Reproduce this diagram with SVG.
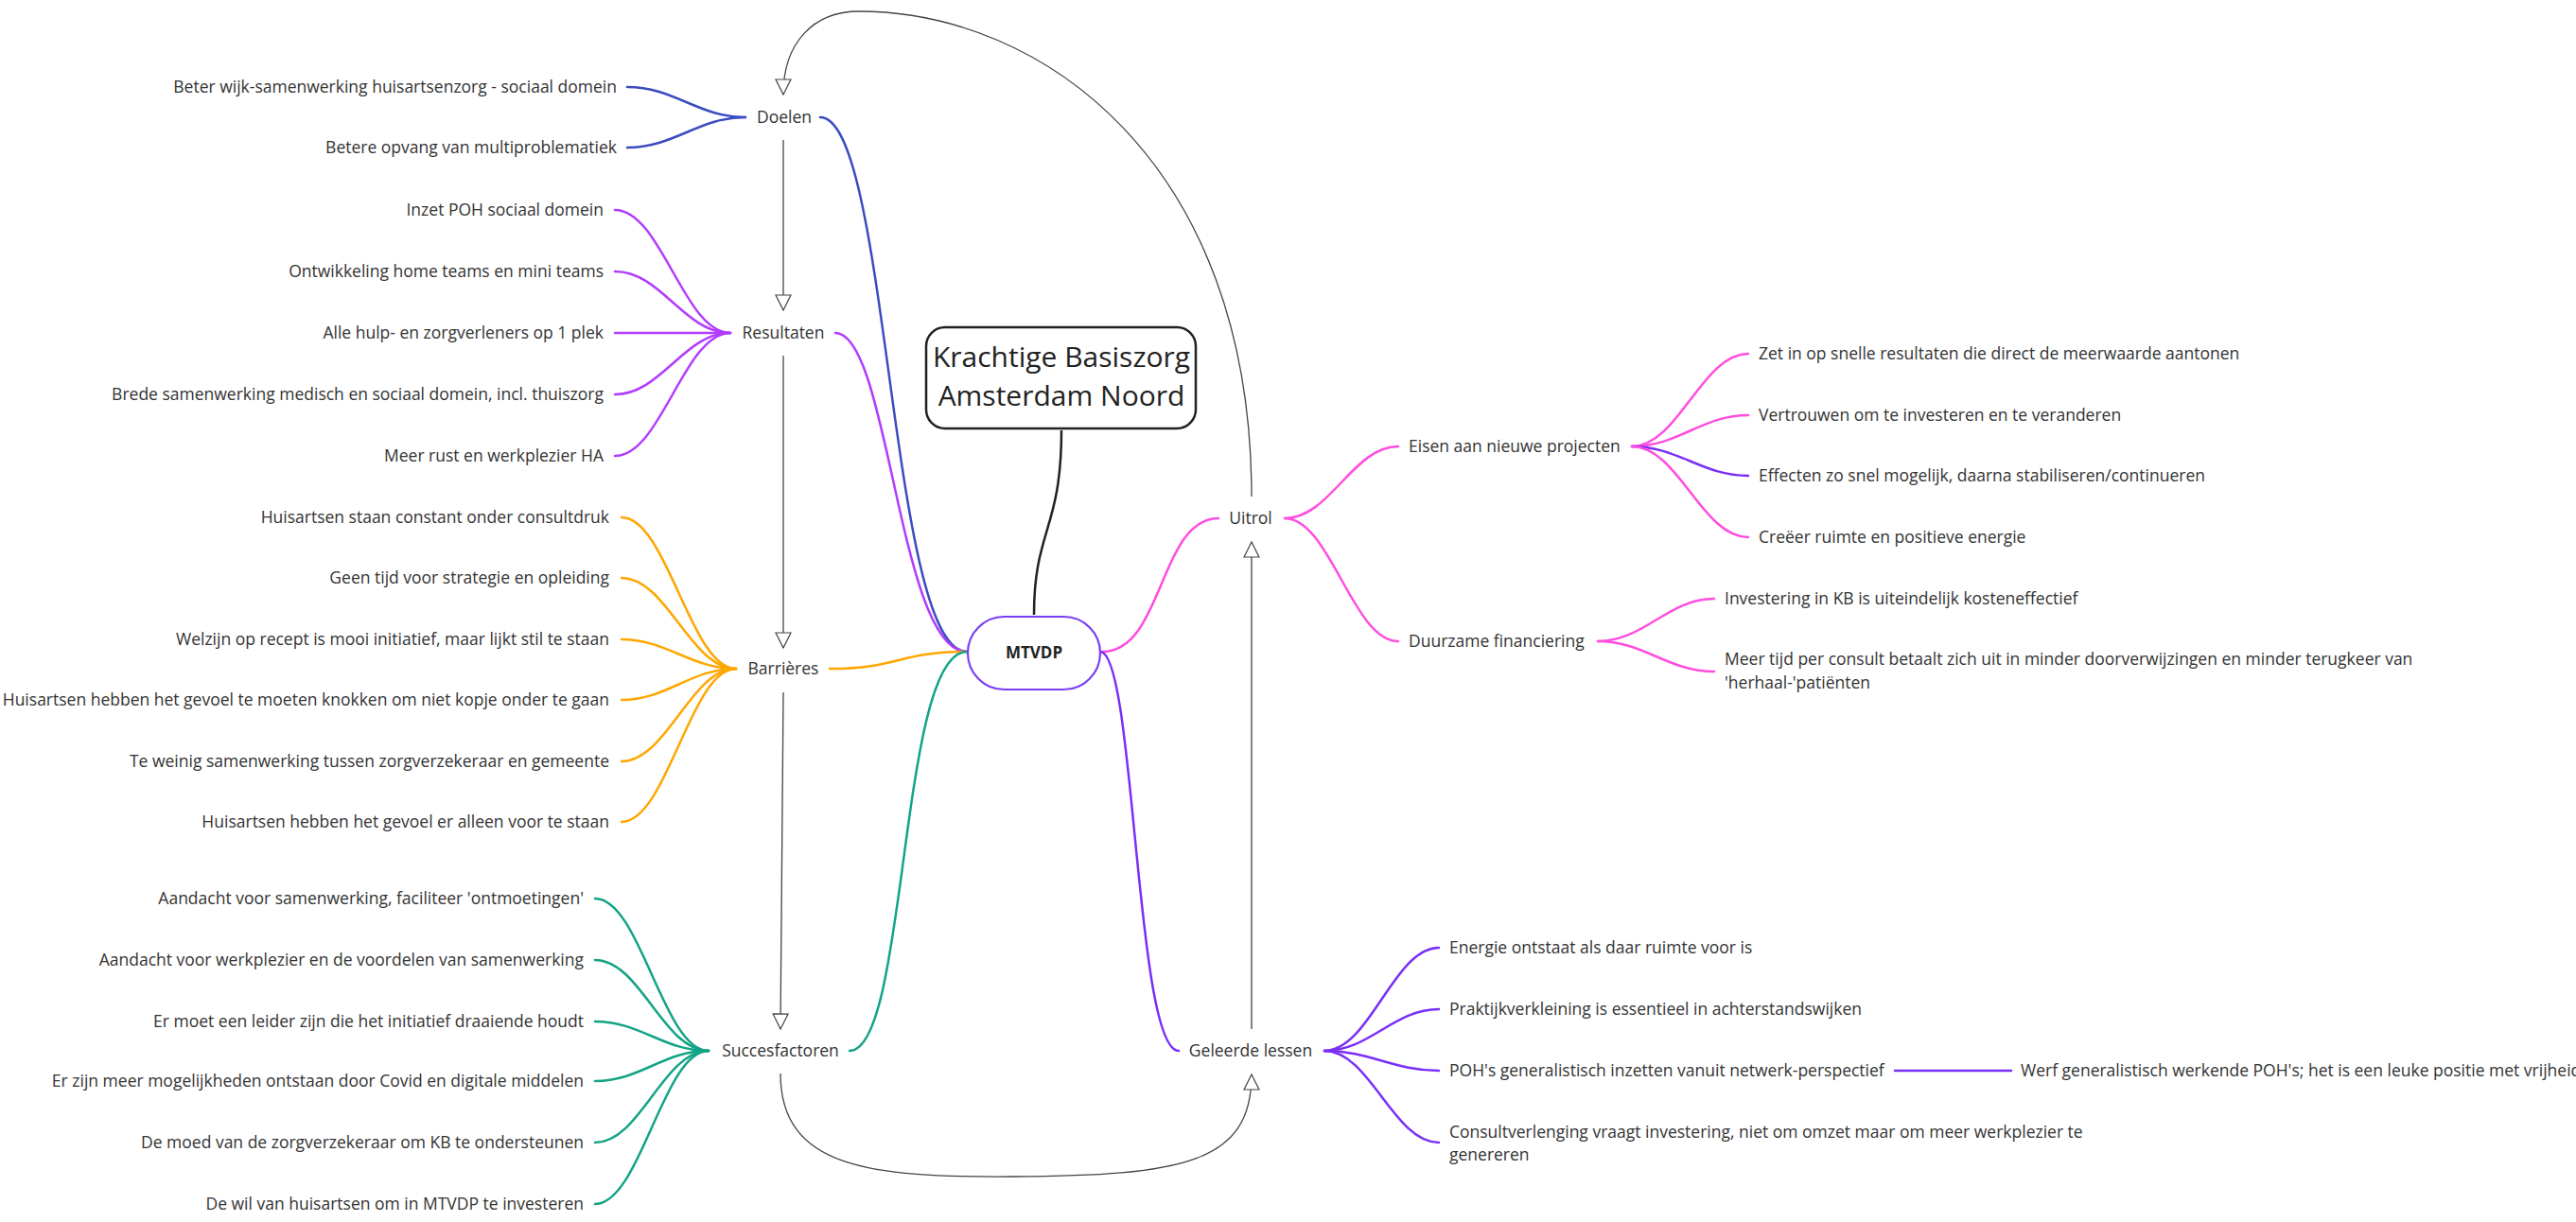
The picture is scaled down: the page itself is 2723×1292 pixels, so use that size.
<svg xmlns="http://www.w3.org/2000/svg" width="2723" height="1292" viewBox="0 0 2723 1292">
<defs>
<style>
text{font-family:"Open Sans","Noto Sans","Liberation Sans",sans-serif;font-size:17.5px;fill:#333}
.l{text-anchor:end}
.c{text-anchor:middle}
.title{font-size:30px;fill:#222}
.root{font-weight:bold;font-size:17px;fill:#222}
.cn{fill:none;stroke-width:2.5;stroke-linecap:round}
.flow{fill:none;stroke:#444;stroke-width:1.3}
.blue{stroke:#3b4cc0}
.purp{stroke:#b23cfd}
.orng{stroke:#ffa600}
.teal{stroke:#13a386}
.pink{stroke:#ff4ddf}
.viol{stroke:#7a2ff7}
</style>
<marker id="tri" markerUnits="userSpaceOnUse" markerWidth="18" markerHeight="18" viewBox="-1 -1 18 18" refX="16" refY="8" orient="auto">
<path d="M0,0 L16,8 L0,16 Z" fill="#fff" stroke="#444" stroke-width="1.2"/>
</marker>
</defs>
<rect width="2723" height="1292" fill="#fff"/>

<g id="connectors">
<path class="flow" d="M828 148 L828 328" marker-end="url(#tri)"/>
<path class="flow" d="M828 376 L828 685" marker-end="url(#tri)"/>
<path class="flow" d="M828 732 L825 1088" marker-end="url(#tri)"/>
<path class="flow" d="M825 1135 C825 1235 920 1245 1070 1244 C1250 1243 1323 1230 1323 1136" marker-end="url(#tri)"/>
<path class="flow" d="M1323 1088 L1323 573" marker-end="url(#tri)"/>
<path class="flow" d="M1323 525 C1323 170 1100 12 908 12 C860 12 828 45 828 100" marker-end="url(#tri)"/>
<path fill="none" stroke="#222" stroke-width="2.5" d="M1122 455 C1122 560 1093 560 1093 650"/>
<path class="cn blue" stroke-width="2" d="M867 124 C940 124 940 689 1022 689"/>
<path class="cn purp" stroke-width="2" d="M883 352 C940 352 950 689 1022 689"/>
<path class="cn orng" d="M877 707 C950 707 950 689 1022 689"/>
<path class="cn teal" d="M898 1111 C960 1111 950 689 1022 689"/>
<path class="cn pink" d="M1165 689 C1230 689 1225 548 1288 548"/>
<path class="cn viol" d="M1163 689 C1200 689 1200 1111 1246 1111"/>
<path class="cn blue" d="M663 92 C713 92 738 124 788 124"/>
<path class="cn blue" d="M663 156 C713 156 738 124 788 124"/>
<path class="cn purp" d="M650 222 C699 222 723 352 772 352"/>
<path class="cn purp" d="M650 287 C699 287 723 352 772 352"/>
<path class="cn purp" d="M650 352 L772 352"/>
<path class="cn purp" d="M650 417 C699 417 723 352 772 352"/>
<path class="cn purp" d="M650 482 C699 482 723 352 772 352"/>
<path class="cn orng" d="M657 547 C705 547 730 707 778 707"/>
<path class="cn orng" d="M657 611 C705 611 730 707 778 707"/>
<path class="cn orng" d="M657 676 C705 676 730 707 778 707"/>
<path class="cn orng" d="M657 740 C705 740 730 707 778 707"/>
<path class="cn orng" d="M657 805 C705 805 730 707 778 707"/>
<path class="cn orng" d="M657 869 C705 869 730 707 778 707"/>
<path class="cn teal" d="M629 950 C677 950 701 1111 749 1111"/>
<path class="cn teal" d="M629 1015 C677 1015 701 1111 749 1111"/>
<path class="cn teal" d="M629 1080 C677 1080 701 1111 749 1111"/>
<path class="cn teal" d="M629 1143 C677 1143 701 1111 749 1111"/>
<path class="cn teal" d="M629 1208 C677 1208 701 1111 749 1111"/>
<path class="cn teal" d="M629 1273 C677 1273 701 1111 749 1111"/>
<path class="cn pink" d="M1358 548 C1406 548 1430 472 1478 472"/>
<path class="cn pink" d="M1358 548 C1406 548 1430 678 1478 678"/>
<path class="cn pink" d="M1725 472 C1774 472 1799 374 1848 374"/>
<path class="cn pink" d="M1725 472 C1774 472 1799 439 1848 439"/>
<path class="cn viol" d="M1725 472 C1774 472 1799 503 1848 503"/>
<path class="cn pink" d="M1725 472 C1774 472 1799 568 1848 568"/>
<path class="cn pink" d="M1689 678 C1738 678 1763 633 1812 633"/>
<path class="cn pink" d="M1689 678 C1738 678 1763 710 1812 710"/>
<path class="cn viol" d="M1400 1111 C1448 1111 1473 1002 1521 1002"/>
<path class="cn viol" d="M1400 1111 C1448 1111 1473 1067 1521 1067"/>
<path class="cn viol" d="M1400 1111 C1448 1111 1473 1132 1521 1132"/>
<path class="cn viol" d="M1400 1111 C1448 1111 1473 1208 1521 1208"/>
<path class="cn viol" d="M2003 1132 L2126 1132"/>
</g>

<g id="title">
<rect x="979" y="346" width="285" height="107" rx="20" fill="#fff" stroke="#222" stroke-width="2.5"/>
<text class="title c" x="1122" y="388">Krachtige Basiszorg</text>
<text class="title c" x="1122" y="429">Amsterdam Noord</text>
</g>
<g id="mtvdp">
<rect x="1023" y="652" width="140" height="77" rx="38.5" fill="#fff" stroke="#7b3ff2" stroke-width="2.2"/>
<text class="root c" x="1093" y="696">MTVDP</text>
</g>

<g id="doelen"><text class="c" x="829" y="130">Doelen</text></g>
<g id="doelen-1"><text class="l" x="652" y="98">Beter wijk-samenwerking huisartsenzorg - sociaal domein</text></g>
<g id="doelen-2"><text class="l" x="652" y="162">Betere opvang van multiproblematiek</text></g>

<g id="resultaten"><text class="c" x="828" y="358">Resultaten</text></g>
<g id="res-1"><text class="l" x="638" y="228">Inzet POH sociaal domein</text></g>
<g id="res-2"><text class="l" x="638" y="293">Ontwikkeling home teams en mini teams</text></g>
<g id="res-3"><text class="l" x="638" y="358">Alle hulp- en zorgverleners op 1 plek</text></g>
<g id="res-4"><text class="l" x="638" y="423">Brede samenwerking medisch en sociaal domein, incl. thuiszorg</text></g>
<g id="res-5"><text class="l" x="638" y="488">Meer rust en werkplezier HA</text></g>

<g id="barrieres"><text class="c" x="828" y="713">Barrières</text></g>
<g id="bar-1"><text class="l" x="644" y="553">Huisartsen staan constant onder consultdruk</text></g>
<g id="bar-2"><text class="l" x="644" y="617">Geen tijd voor strategie en opleiding</text></g>
<g id="bar-3"><text class="l" x="644" y="682">Welzijn op recept is mooi initiatief, maar lijkt stil te staan</text></g>
<g id="bar-4"><text class="l" x="644" y="746">Huisartsen hebben het gevoel te moeten knokken om niet kopje onder te gaan</text></g>
<g id="bar-5"><text class="l" x="644" y="811">Te weinig samenwerking tussen zorgverzekeraar en gemeente</text></g>
<g id="bar-6"><text class="l" x="644" y="875">Huisartsen hebben het gevoel er alleen voor te staan</text></g>

<g id="succesfactoren"><text class="c" x="825" y="1117">Succesfactoren</text></g>
<g id="suc-1"><text class="l" x="617" y="956">Aandacht voor samenwerking, faciliteer 'ontmoetingen'</text></g>
<g id="suc-2"><text class="l" x="617" y="1021">Aandacht voor werkplezier en de voordelen van samenwerking</text></g>
<g id="suc-3"><text class="l" x="617" y="1086">Er moet een leider zijn die het initiatief draaiende houdt</text></g>
<g id="suc-4"><text class="l" x="617" y="1149">Er zijn meer mogelijkheden ontstaan door Covid en digitale middelen</text></g>
<g id="suc-5"><text class="l" x="617" y="1214">De moed van de zorgverzekeraar om KB te ondersteunen</text></g>
<g id="suc-6"><text class="l" x="617" y="1279">De wil van huisartsen om in MTVDP te investeren</text></g>

<g id="uitrol"><text class="c" x="1322" y="554">Uitrol</text></g>
<g id="eisen"><text x="1489" y="478">Eisen aan nieuwe projecten</text></g>
<g id="eisen-1"><text x="1859" y="380">Zet in op snelle resultaten die direct de meerwaarde aantonen</text></g>
<g id="eisen-2"><text x="1859" y="445">Vertrouwen om te investeren en te veranderen</text></g>
<g id="eisen-3"><text x="1859" y="509">Effecten zo snel mogelijk, daarna stabiliseren/continueren</text></g>
<g id="eisen-4"><text x="1859" y="574">Creëer ruimte en positieve energie</text></g>
<g id="duurzaam"><text x="1489" y="684">Duurzame financiering</text></g>
<g id="duur-1"><text x="1823" y="639">Investering in KB is uiteindelijk kosteneffectief</text></g>
<g id="duur-2"><text x="1823" y="703">Meer tijd per consult betaalt zich uit in minder doorverwijzingen en minder terugkeer van</text><text x="1823" y="728">'herhaal-'patiënten</text></g>

<g id="geleerde"><text class="c" x="1322" y="1117">Geleerde lessen</text></g>
<g id="gel-1"><text x="1532" y="1008">Energie ontstaat als daar ruimte voor is</text></g>
<g id="gel-2"><text x="1532" y="1073">Praktijkverkleining is essentieel in achterstandswijken</text></g>
<g id="gel-3"><text x="1532" y="1138">POH's generalistisch inzetten vanuit netwerk-perspectief</text></g>
<g id="gel-3a"><text x="2136" y="1138">Werf generalistisch werkende POH's; het is een leuke positie met vrijheid</text></g>
<g id="gel-4"><text x="1532" y="1203">Consultverlenging vraagt investering, niet om omzet maar om meer werkplezier te</text><text x="1532" y="1227">genereren</text></g>
</svg>
